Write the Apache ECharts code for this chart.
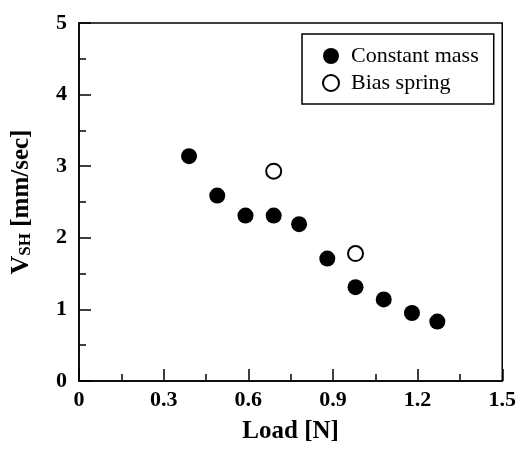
<!DOCTYPE html>
<html>
<head>
<meta charset="utf-8">
<script src="https://cdn.jsdelivr.net/npm/echarts@6/dist/echarts.min.js"></script>
<style>
  html, body { margin: 0; padding: 0; background: #fff; }
  #main { width: 519px; height: 449px; }
</style>
</head>
<body>
<div id="main"></div>
<script>
// data
var massLoad = [0.39, 0.49, 0.59, 0.69, 0.78, 0.88, 0.98, 1.08, 1.18, 1.27];
var massV = [3.14, 2.59, 2.31, 2.31, 2.19, 1.71, 1.31, 1.14, 0.95, 0.83];
var springLoad = [0.69, 0.98];
var springV = [2.93, 1.78];
var xTickLabels = ['0', '0.3', '0.6', '0.9', '1.2', '1.5'];
var yTickLabels = ['0', '1', '2', '3', '4', '5'];

function pairs(xs, ys) {
    var out = [];
    for (var i = 0; i < xs.length; i++) out.push([xs[i], ys[i]]);
    return out;
}

var font = '"Liberation Serif", "Times New Roman", serif';
var myChart = echarts.init(document.getElementById('main'));

var axisCommon = {
    axisLine: { show: true, onZero: false, lineStyle: { color: '#000', width: 1.5 } },
    axisTick: { show: true, inside: true, length: 12, lineStyle: { color: '#000', width: 1.5 } },
    minorTick: { show: true, splitNumber: 2, length: 7, lineStyle: { color: '#000', width: 1.5 } },
    splitLine: { show: false },
    nameLocation: 'middle',
    nameTextStyle: { fontFamily: font, fontWeight: 'bold', fontSize: 25, color: '#000' }
};

option = {
    animation: false,
    backgroundColor: '#fff',
    grid: {
        left: 79, right: 15, top: 23, bottom: 65,
        show: true, borderColor: '#000', borderWidth: 1.5
    },
    legend: {
        orient: 'vertical',
        left: 302, top: 34,
        padding: [11, 15, 10, 20],
        itemGap: 5,
        itemWidth: 16, itemHeight: 16,
        borderColor: '#000', borderWidth: 1.5,
        textStyle: { fontFamily: font, fontSize: 22, color: '#000', padding: [0, 0, 0, 7] },
        data: ['Constant mass', 'Bias spring']
    },
    xAxis: Object.assign({}, axisCommon, {
        type: 'value', min: 0, max: 1.5, interval: 0.3,
        name: 'Load [N]', nameGap: 38,
        axisLabel: {
            margin: 8, fontFamily: font, fontWeight: 'bold', fontSize: 22, color: '#000',
            formatter: function (v) { return xTickLabels[Math.round(v / 0.3)]; }
        }
    }),
    yAxis: Object.assign({}, axisCommon, {
        type: 'value', min: 0, max: 5, interval: 1,
        name: '{v|V}{s|SH}{n| [mm/sec]}', nameGap: 45,
        nameTextStyle: {
            fontFamily: font, fontWeight: 'bold', fontSize: 25, color: '#000',
            rich: {
                v: { fontFamily: font, fontWeight: 'bold', fontSize: 26, color: '#000', verticalAlign: 'bottom', lineHeight: 30 },
                s: { fontFamily: font, fontWeight: 'bold', fontSize: 17, color: '#000', verticalAlign: 'bottom', lineHeight: 24 },
                n: { fontFamily: font, fontWeight: 'bold', fontSize: 25, color: '#000', verticalAlign: 'bottom', lineHeight: 30 }
            }
        },
        axisLabel: {
            margin: 12, fontFamily: font, fontWeight: 'bold', fontSize: 22, color: '#000',
            formatter: function (v) { return yTickLabels[Math.round(v)]; }
        }
    }),
    series: [
        {
            name: 'Constant mass',
            type: 'scatter',
            symbol: 'circle',
            symbolSize: 16,
            itemStyle: { color: '#000', opacity: 1 },
            data: pairs(massLoad, massV)
        },
        {
            name: 'Bias spring',
            type: 'scatter',
            symbol: 'circle',
            symbolSize: 15,
            itemStyle: { color: '#fff', borderColor: '#000', borderWidth: 2, opacity: 1 },
            data: pairs(springLoad, springV)
        }
    ]
};

if (option && typeof option === "object") {
    myChart.setOption(option, true);
}
</script>
</body>
</html>
